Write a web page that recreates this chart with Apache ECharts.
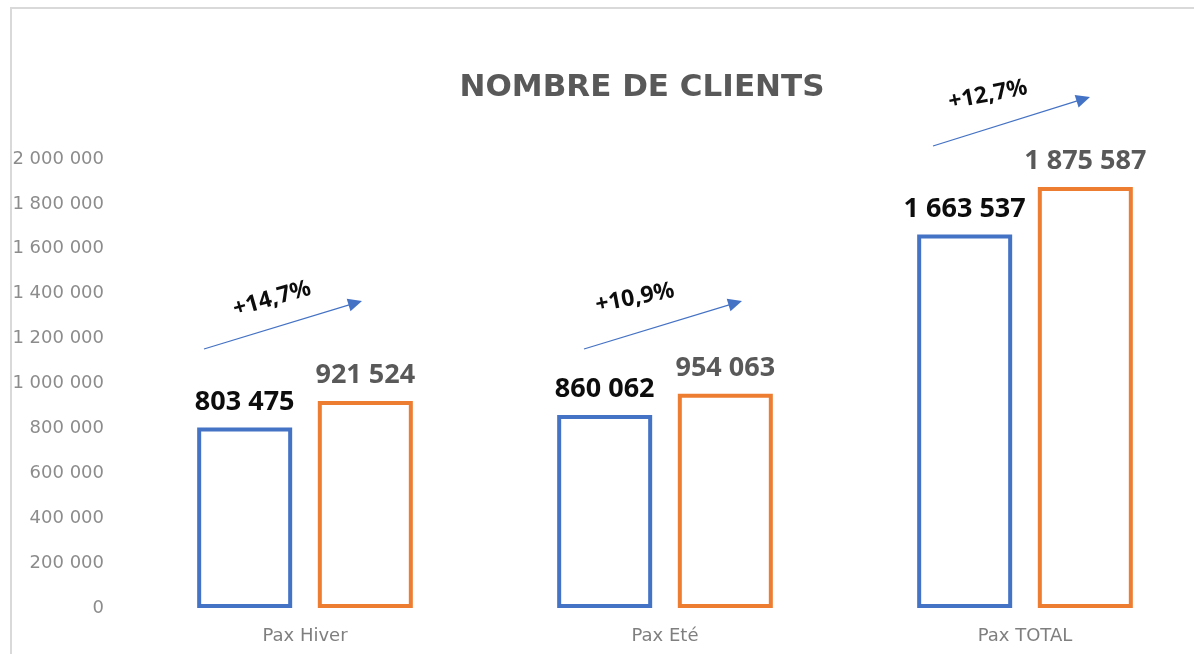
<!DOCTYPE html>
<html>
<head>
<meta charset="utf-8">
<title>Nombre de clients</title>
<script src="https://cdn.jsdelivr.net/npm/echarts@6/dist/echarts.min.js"></script>
<style>
  html, body { margin: 0; padding: 0; background: #ffffff; }
  #chart { width: 1194px; height: 654px; }
</style>
</head>
<body>
<div id="chart"></div>
<script>
// données du graphique
const categories = ["Pax Hiver", "Pax Eté", "Pax TOTAL"];
const annee1 = [803475, 860062, 1663537];
const annee2 = [921524, 954063, 1875587];
const evolutions = ["+14,7%", "+10,9%", "+12,7%"];
const yTicks = [0, 200000, 400000, 600000, 800000, 1000000, 1200000, 1400000, 1600000, 1800000, 2000000];

const FONT = "'Noto Sans', 'Open Sans', sans-serif";
const FONT_LARGE = "'DejaVu Sans', 'Noto Sans', sans-serif";
const BLEU = "#4472C4";
const ORANGE = "#ED7D31";

// format "1 663 537"
function fmt(v) {
    return String(v).replace(/\B(?=(\d{3})+(?!\d))/g, " ");
}

// flèche bleue + texte incliné
function fleche(x1, y1, x2, y2, texte, tx, ty, rot) {
    const ang = Math.atan2(y2 - y1, x2 - x1);
    const len = Math.sqrt((x2 - x1) * (x2 - x1) + (y2 - y1) * (y2 - y1));
    return [
        {
            type: "group",
            x: x1, y: y1,
            rotation: -ang,
            children: [
                { type: "line", shape: { x1: 0, y1: 0, x2: len - 10, y2: 0 },
                  style: { stroke: BLEU, lineWidth: 1.3 } },
                { type: "polygon", shape: { points: [[len, 0], [len - 14, -6.5], [len - 14, 6.5]] },
                  style: { fill: BLEU } }
            ]
        },
        {
            type: "text",
            x: tx, y: ty,
            rotation: rot * Math.PI / 180,
            style: { text: texte, fill: "#0d0d0d", font: "bold 23px " + FONT,
                     align: "center", verticalAlign: "middle" }
        }
    ];
}

const myChart = echarts.init(document.getElementById("chart"));

const option = {
    backgroundColor: "#ffffff",
    animation: false,
    title: {
        text: "NOMBRE DE CLIENTS",
        left: 637,
        top: 67,
        textAlign: "center",
        textStyle: { color: "#595959", fontFamily: FONT_LARGE, fontWeight: "bold", fontSize: 31 }
    },
    grid: { left: 125, top: 159, width: 1080, bottom: 46, containLabel: false, outerBoundsMode: "none" },
    xAxis: {
        type: "category",
        data: categories,
        axisLine: { show: false },
        axisTick: { show: false },
        axisLabel: { color: "#7f7f7f", fontFamily: FONT_LARGE, fontSize: 18, margin: 19 }
    },
    yAxis: {
        type: "value",
        min: yTicks[0],
        max: yTicks[yTicks.length - 1],
        interval: 200000,
        splitLine: { show: false },
        axisLine: { show: false },
        axisTick: { show: false },
        axisLabel: { color: "#8c8c8c", fontFamily: FONT_LARGE, fontSize: 18, margin: 21,
                     formatter: fmt }
    },
    series: [
        {
            type: "bar",
            data: annee1,
            barWidth: 95,
            barGap: "27%",
            itemStyle: { color: "rgba(255,255,255,0)", borderColor: BLEU, borderWidth: 4 },
            label: { show: true, position: "top", distance: 12, color: "#0d0d0d",
                     fontFamily: FONT, fontWeight: "bold", fontSize: 27,
                     formatter: p => fmt(p.value) }
        },
        {
            type: "bar",
            data: annee2,
            barWidth: 95,
            itemStyle: { color: "rgba(255,255,255,0)", borderColor: ORANGE, borderWidth: 4 },
            label: { show: true, position: "top", distance: 12, color: "#595959",
                     fontFamily: FONT, fontWeight: "bold", fontSize: 27,
                     formatter: p => fmt(p.value) }
        }
    ],
    graphic: [
        // cadre gris en haut et à gauche
        { type: "line", shape: { x1: 10, y1: 8, x2: 1194, y2: 8 }, style: { stroke: "#d9d9d9", lineWidth: 2 } },
        { type: "line", shape: { x1: 11, y1: 8, x2: 11, y2: 654 }, style: { stroke: "#d9d9d9", lineWidth: 2 } }
    ]
        .concat(fleche(204, 349, 362, 301, evolutions[0], 272, 299, 16))
        .concat(fleche(584, 349, 742, 301, evolutions[1], 635, 298, 11))
        .concat(fleche(933, 146, 1090, 97, evolutions[2], 988, 95, 11))
};

myChart.setOption(option);
window.addEventListener("resize", function () {
    myChart.resize();
});
</script>
</body>
</html>
